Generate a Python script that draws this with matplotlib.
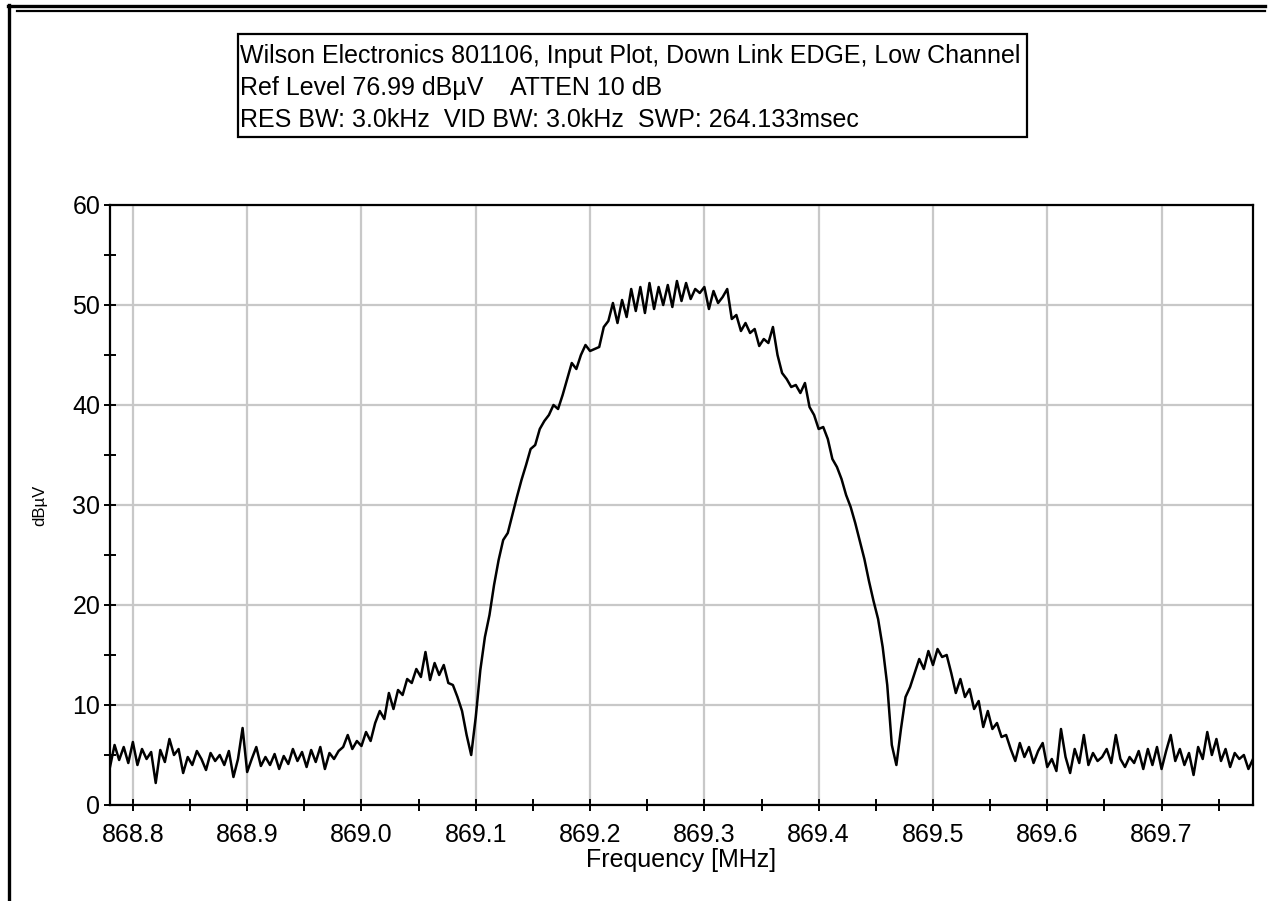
import numpy as np
import matplotlib.pyplot as plt
from matplotlib.lines import Line2D
from matplotlib.patches import Rectangle
from matplotlib.ticker import MultipleLocator

plt.rcParams["font.family"] = ["Liberation Sans", "DejaVu Sans"]

# sweep settings (MHz)
f_start = 868.78
f_stop = 869.78

# trace level per sweep point (dBuV)
level = [
    3.8, 6.0, 4.5, 5.8, 4.2, 6.3, 4.0, 5.6, 4.6, 5.3,
    2.2, 5.5, 4.3, 6.6, 5.0, 5.6, 3.2, 4.8, 4.0, 5.4,
    4.6, 3.5, 5.2, 4.4, 5.0, 4.0, 5.4, 2.8, 4.6, 7.7,
    3.3, 4.6, 5.8, 3.9, 4.8, 4.0, 5.1, 3.6, 4.9, 4.1,
    5.6, 4.4, 5.3, 3.8, 5.5, 4.3, 5.8, 3.6, 5.2, 4.6,
    5.4, 5.8, 7.0, 5.6, 6.4, 5.9, 7.3, 6.4, 8.2, 9.4,
    8.6, 11.2, 9.6, 11.5, 11.0, 12.6, 12.2, 13.6, 12.8, 15.3,
    12.5, 14.2, 13.0, 14.0, 12.2, 12.0, 10.8, 9.4, 7.0, 5.0,
    8.8, 13.5, 16.8, 19.0, 22.0, 24.5, 26.5, 27.2, 29.0, 30.8,
    32.5, 34.0, 35.6, 36.0, 37.6, 38.4, 39.0, 40.0, 39.6, 41.0,
    42.6, 44.2, 43.6, 45.0, 46.0, 45.4, 45.6, 45.8, 47.8, 48.4,
    50.2, 48.2, 50.5, 48.8, 51.6, 49.4, 51.8, 49.2, 52.2, 49.6,
    51.8, 50.0, 52.0, 49.8, 52.4, 50.4, 52.2, 50.6, 51.6, 51.2,
    51.8, 49.6, 51.4, 50.2, 50.8, 51.6, 48.6, 49.0, 47.4, 48.2,
    47.2, 47.6, 45.9, 46.6, 46.2, 47.8, 45.0, 43.2, 42.6, 41.8,
    42.0, 41.2, 42.2, 39.8, 39.0, 37.6, 37.8, 36.6, 34.6, 33.8,
    32.6, 31.0, 29.8, 28.2, 26.4, 24.6, 22.4, 20.4, 18.6, 15.8,
    12.0, 6.0, 4.0, 7.6, 10.8, 11.8, 13.2, 14.6, 13.6, 15.4,
    14.0, 15.6, 14.8, 15.0, 13.2, 11.2, 12.6, 10.8, 11.6, 9.6,
    10.4, 7.8, 9.4, 7.6, 8.2, 6.8, 7.0, 5.6, 4.4, 6.2,
    4.8, 5.8, 4.2, 5.4, 6.2, 3.8, 4.6, 3.4, 7.6, 4.8,
    3.2, 5.6, 4.2, 7.0, 4.0, 5.2, 4.4, 4.8, 5.6, 4.2,
    7.0, 4.6, 3.8, 4.8, 4.2, 5.4, 3.6, 5.6, 4.0, 5.8,
    3.6, 5.4, 7.0, 4.4, 5.6, 4.0, 5.2, 3.0, 5.8, 4.6,
    7.3, 5.0, 6.6, 4.4, 5.6, 3.8, 5.2, 4.6, 5.0, 3.6,
    4.6,
]

freq = np.linspace(f_start, f_stop, len(level))

header = [
    "Wilson Electronics 801106, Input Plot, Down Link EDGE, Low Channel",
    "Ref Level 76.99 dB\u00b5V    ATTEN 10 dB",
    "RES BW: 3.0kHz  VID BW: 3.0kHz  SWP: 264.133msec",
]

W, H = 1270, 901
fig = plt.figure(figsize=(W / 100, H / 100), dpi=100)


def px(x, y):
    # pixel position -> figure fraction
    return x / W, 1 - y / H


# page border
for (x0, y0), (x1, y1), lw in [((8, 6), (1265, 6), 2.4),
                               ((17, 11), (1265, 11), 1.6),
                               ((9, 5), (9, 901), 2.4)]:
    a, b = px(x0, y0)
    c, d = px(x1, y1)
    fig.add_artist(Line2D([a, c], [b, d], transform=fig.transFigure,
                          color="black", lw=lw))

# header box
bx0, by0 = px(238, 137)
bx1, by1 = px(1027, 34)
fig.add_artist(Rectangle((bx0, by0), bx1 - bx0, by1 - by0,
                         transform=fig.transFigure, fill=False,
                         edgecolor="black", lw=1.6))
for i, line in enumerate(header):
    tx, ty = px(240, 56 + i * 32)
    fig.text(tx, ty, line, fontsize=18, ha="left", va="center")

ax = fig.add_axes([110 / W, 96 / H, 1143 / W, 600 / H])
ax.plot(freq, level, color="black", lw=1.8)

ax.set_xlim(f_start, f_stop)
ax.set_ylim(0, 60)
ax.xaxis.set_major_locator(MultipleLocator(0.1))
ax.xaxis.set_minor_locator(MultipleLocator(0.05))
ax.yaxis.set_major_locator(MultipleLocator(10))
ax.yaxis.set_minor_locator(MultipleLocator(5))
ax.xaxis.set_major_formatter(lambda v, p: f"{v:.1f}")

ax.grid(True, which="major", color="#c8c8c8", lw=1.6)
ax.set_axisbelow(True)
for s in ax.spines.values():
    s.set_linewidth(1.6)
ax.tick_params(which="both", direction="inout", length=8, width=1.4,
               labelsize=18, pad=3)
ax.tick_params(axis="x", which="major", pad=9)

ax.set_xlabel("Frequency [MHz]", fontsize=18, labelpad=1)
ax.set_ylabel("dB\u00b5V", fontsize=12)
ax.yaxis.set_label_coords(-63 / 1143, 0.5)

fig.savefig("out.png", dpi=100)
